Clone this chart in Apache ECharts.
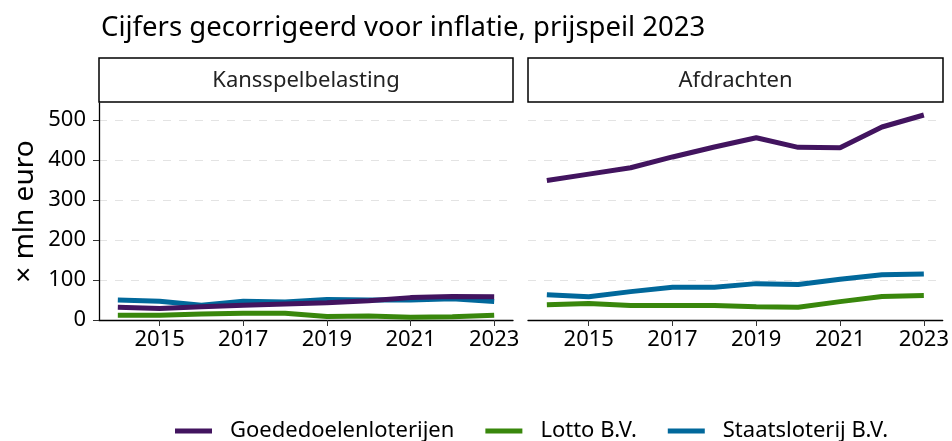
<!DOCTYPE html>
<html>
<head>
<meta charset="utf-8">
<script src="https://cdn.jsdelivr.net/npm/echarts@6/dist/echarts.min.js"></script>
<style>
  html, body { margin: 0; padding: 0; background: #fff; }
  #chart { width: 952px; height: 441px; }
</style>
</head>
<body>
<div id="chart"></div>
<script>
// jaren en waarden (mln euro, prijspeil 2023)
var years = [2014, 2015, 2016, 2017, 2018, 2019, 2020, 2021, 2022, 2023];
var tickYears = [2015, 2017, 2019, 2021, 2023];
var yTicks = [0, 100, 200, 300, 400, 500];
var panels = ['Kansspelbelasting', 'Afdrachten'];
var names = ['Goededoelenloterijen', 'Lotto B.V.', 'Staatsloterij B.V.'];

// Kansspelbelasting
var ksbGoededoelen = [32, 29, 33, 37, 40, 43, 48, 56, 59, 58];
var ksbLotto = [12, 12, 15, 17, 17, 9, 10, 7, 8, 12];
var ksbStaats = [50, 47, 37, 47, 45, 51, 50, 50, 53, 46];

// Afdrachten
var afdGoededoelen = [349, 365, 381, 408, 433, 456, 432, 431, 483, 513];
var afdLotto = [38, 41, 36, 36, 36, 33, 32, 46, 59, 61];
var afdStaats = [63, 58, 71, 82, 82, 91, 89, 102, 113, 115];

var colors = ['#42145f', '#39870c', '#01689b'];
var font = 'Noto Sans';

function pairs(vals) {
  return years.map(function (y, i) { return [y, vals[i]]; });
}

var chart = echarts.init(document.getElementById('chart'));

var grids = [
  { left: 99, width: 414, top: 103, height: 217 },
  { left: 528, width: 415, top: 103, height: 217 }
];

function xAx(idx) {
  return {
    type: 'value', gridIndex: idx, min: 2013.55, max: 2023.45,
    axisLine: { show: true, lineStyle: { color: '#000', width: 1.3 } },
    axisTick: { show: true, customValues: tickYears, length: 6, lineStyle: { color: '#333' } },
    axisLabel: {
      customValues: tickYears, color: '#000', fontSize: 22, fontFamily: font, margin: 9,
      formatter: function (v) { return String(v); }
    },
    splitLine: { show: false }
  };
}

function yAx(idx) {
  return {
    type: 'value', gridIndex: idx, min: 0, max: 543,
    name: idx === 0 ? '× mln euro' : '',
    nameLocation: 'middle', nameRotate: 90, nameGap: 60,
    nameTextStyle: { color: '#000', fontSize: 28, fontFamily: font },
    axisLine: { show: idx === 0, lineStyle: { color: '#000', width: 1.3 } },
    axisTick: { show: idx === 0, customValues: yTicks, length: 6, lineStyle: { color: '#333' } },
    axisLabel: {
      show: idx === 0, color: '#000', fontSize: 22, fontFamily: font, margin: 13,
      customValues: yTicks
    },
    splitLine: { show: true, lineStyle: { color: '#e3e3e3', type: [8, 8], width: 1 } }
  };
}

var data = [
  [ksbGoededoelen, ksbLotto, ksbStaats],
  [afdGoededoelen, afdLotto, afdStaats]
];

var series = [];
for (var p = 0; p < 2; p++) {
  for (var s = 0; s < 3; s++) {
    series.push({
      name: names[s], type: 'line', xAxisIndex: p, yAxisIndex: p,
      data: pairs(data[p][s]), showSymbol: false, symbol: 'none',
      lineStyle: { color: colors[s], width: 5 },
      itemStyle: { color: colors[s] },
      z: 3 - s
    });
  }
}

var strips = [];
grids.forEach(function (g, i) {
  strips.push({
    type: 'rect', shape: { x: g.left, y: 58, width: g.width, height: 44 },
    style: { fill: '#fff', stroke: '#000', lineWidth: 1.5 }
  });
  strips.push({
    type: 'text', x: g.left + g.width / 2, y: 81,
    style: { text: panels[i], fill: '#222', font: '22px "' + font + '"', align: 'center', verticalAlign: 'middle' }
  });
});

chart.setOption({
  animation: false,
  title: {
    text: 'Cijfers gecorrigeerd voor inflatie, prijspeil 2023',
    left: 96, top: 9,
    textStyle: { color: '#000', fontSize: 27.5, fontWeight: 'normal', fontFamily: font }
  },
  legend: {
    data: names, bottom: -6, left: 170,
    icon: 'rect', itemWidth: 37, itemHeight: 5, itemGap: 31,
    textStyle: { color: '#000', fontSize: 22, fontFamily: font, padding: [0, 0, 0, 13] }
  },
  grid: grids,
  xAxis: [xAx(0), xAx(1)],
  yAxis: [yAx(0), yAx(1)],
  series: series,
  graphic: strips
});
</script>
</body>
</html>
